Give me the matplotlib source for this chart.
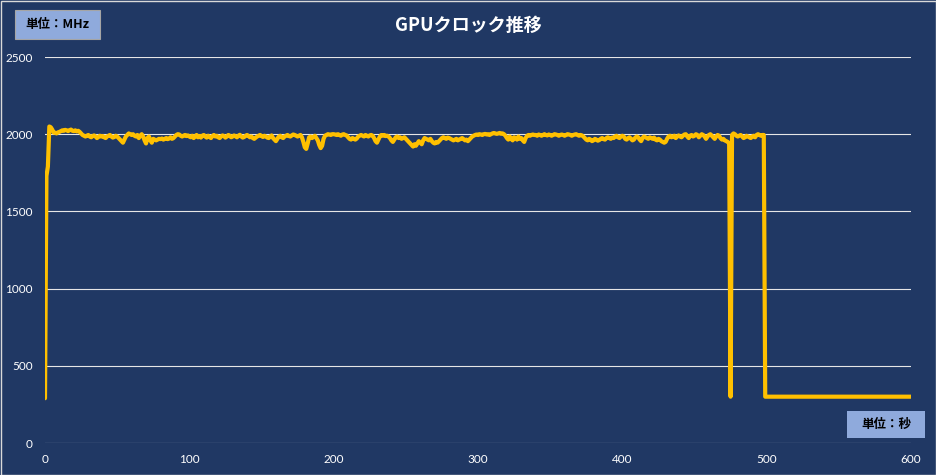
import numpy as np
import matplotlib
matplotlib.use("Agg")
import matplotlib.pyplot as plt
from matplotlib.patches import Rectangle

plt.rcParams['font.family'] = ['Lato', 'Noto Sans CJK JP', 'DejaVu Sans']

# GPU clock (MHz), one value per second from t=0 to t=499
clock_mhz = [
    290, 1730, 1790, 2050, 2045, 2030, 2010, 2010, 2005, 2012, 2015, 2020, 2025, 2022, 2028, 2025, 2020, 2026, 2030, 2022,
    2020, 2025, 2018, 2022, 2015, 2005, 1995, 1990, 1985, 1990, 1995, 1985, 1980, 1988, 1992, 1985, 1975, 1982, 1990, 1985,
    1988, 1980, 1975, 1985, 1990, 1995, 1985, 1978, 1982, 1990, 1985, 1975, 1965, 1955, 1945, 1965, 1985, 1995, 2005, 2000,
    1995, 2000, 1990, 1985, 1995, 1975, 1990, 2000, 1985, 1960, 1940, 1975, 1985, 1960, 1945, 1970, 1965, 1960, 1965, 1970,
    1968, 1972, 1965, 1970, 1975, 1968, 1972, 1980, 1970, 1975, 1985, 1995, 2000, 1998, 1990, 1985, 1990, 1995, 1988, 1992,
    1985, 1980, 1990, 1975, 1985, 1995, 1980, 1988, 1978, 1990, 1995, 1985, 1978, 1990, 1982, 1975, 1988, 1995, 1985, 1990,
    1980, 1975, 1985, 1992, 1988, 1978, 1985, 1995, 1990, 1980, 1985, 1992, 1986, 1980, 1990, 1996, 1985, 1978, 1982, 1990,
    1995, 1988, 1980, 1985, 1975, 1970, 1978, 1985, 1990, 1995, 1988, 1982, 1990, 1985, 1978, 1975, 1985, 1992, 1975, 1965,
    1955, 1970, 1985, 1990, 1980, 1975, 1985, 1990, 1995, 1988, 1985, 1992, 1998, 1995, 1990, 1985, 1990, 1995, 1980, 1950,
    1915, 1905, 1940, 1980, 1985, 1975, 1982, 1990, 1975, 1960, 1930, 1910, 1925, 1970, 1990, 1995, 2000, 1998, 1995, 2000,
    2000, 1998, 1995, 2000, 1995, 1990, 1998, 2000, 1995, 1992, 1980, 1970, 1965, 1975, 1970, 1965, 1972, 1985, 1990, 1995,
    1990, 1985, 1995, 1990, 1985, 1992, 1995, 1990, 1975, 1955, 1945, 1965, 1985, 1995, 1990, 1995, 1988, 1990, 1985, 1975,
    1960, 1950, 1965, 1980, 1985, 1975, 1980, 1970, 1975, 1980, 1970, 1960, 1950, 1940, 1930, 1920, 1935, 1925, 1940, 1955,
    1945, 1935, 1960, 1975, 1970, 1965, 1960, 1970, 1955, 1945, 1940, 1950, 1945, 1955, 1965, 1975, 1980, 1975, 1970, 1978,
    1975, 1970, 1965, 1960, 1965, 1970, 1960, 1965, 1970, 1975, 1968, 1960, 1965, 1955, 1965, 1975, 1985, 1990, 1995, 1998,
    1995, 2000, 1998, 1995, 2000, 2002, 1998, 2000, 1995, 2000, 2005, 2008, 2005, 2002, 2005, 2008, 2003, 2005, 2000, 1990,
    1975, 1965, 1985, 1970, 1960, 1980, 1975, 1965, 1985, 1970, 1975, 1960, 1950, 1975, 1990, 1995, 1990, 1995, 1998, 1995,
    1995, 1990, 1998, 1995, 1990, 1995, 2000, 1995, 1992, 1998, 1995, 1990, 1995, 2000, 1998, 1995, 1990, 1995, 1998, 1995,
    1990, 1995, 2000, 1998, 1995, 1990, 1995, 1998, 2000, 1995, 1990, 1995, 1992, 1985, 1975, 1965, 1960, 1970, 1965, 1955,
    1960, 1970, 1965, 1958, 1962, 1970, 1975, 1968, 1965, 1975, 1980, 1975, 1970, 1978, 1975, 1985, 1990, 1980, 1975, 1985,
    1990, 1985, 1970, 1965, 1975, 1980, 1970, 1960, 1965, 1978, 1985, 1980, 1965, 1955, 1975, 1985, 1980, 1975, 1970, 1980,
    1975, 1970, 1978, 1965, 1960, 1970, 1965, 1955, 1950, 1945, 1950, 1970, 1985, 1990, 1980, 1985, 1990, 1975, 1985, 1992,
    1985, 1980, 1990, 1998, 2000, 1985, 1975, 1990, 1995, 1985, 1990, 2000, 1995, 1980, 1990, 2000, 1995, 1985, 1970, 1985,
    1995, 2000, 1990, 1980, 1970, 1985, 1995, 1990, 1975, 1965, 1970, 1960, 1955, 1950, 1940, 300, 1995, 2005, 2000, 1990,
    1985, 1990, 1995, 1985, 1975, 1980, 1990, 1985, 1980, 1975, 1985, 1990, 1980, 1995, 2000, 1995, 1990, 1995, 1995, 300,
]
# idle tail after the load ends
tail_seconds = [600]
tail_mhz = [300]

x_ticks = [0, 100, 200, 300, 400, 500, 600]
y_ticks = [0, 500, 1000, 1500, 2000, 2500]

title = "GPUクロック推移"
y_unit = "単位：MHz"
x_unit = "単位：秒"

BG = "#203864"
LINE = "#FFC000"
BOX = "#8FAADC"

seconds = list(np.arange(len(clock_mhz))) + tail_seconds
values = clock_mhz + tail_mhz

fig = plt.figure(figsize=(9.36, 4.75), dpi=100, facecolor=BG)
ax = fig.add_axes([45/936, 1-443/475, 866/936, 386/475])
ax.set_facecolor(BG)

ax.plot(seconds, values, color=LINE, linewidth=3.0, solid_joinstyle='round',
        solid_capstyle='round', zorder=3)

ax.set_xlim(0, 600)
ax.set_ylim(0, 2500)
ax.set_xticks(x_ticks)
ax.set_yticks(y_ticks)
ax.set_xticklabels([str(v) for v in x_ticks])
ax.set_yticklabels([str(v) for v in y_ticks])
ax.grid(axis='y', color='#E6E6E6', linewidth=0.8)
ax.set_axisbelow(True)
for s in ax.spines.values():
    s.set_visible(False)
ax.tick_params(axis='both', length=0, colors='white', labelsize=8.5)
ax.tick_params(axis='y', pad=9)
ax.tick_params(axis='x', pad=8)
for lab in ax.get_xticklabels() + ax.get_yticklabels():
    lab.set_color('white')

fig.text(468/936, 1-25/475, title, color='white', fontsize=13, fontweight='bold',
         ha='center', va='center', family=['Noto Sans CJK JP', 'DejaVu Sans'])

# unit boxes
fig.patches.append(Rectangle((15/936, 1-39/475), 85/936, 29/475, transform=fig.transFigure,
                             facecolor=BOX, edgecolor='#A5A5A5', linewidth=0.8, zorder=5))
fig.text(57.5/936, 1-24.5/475, y_unit, color='black', fontsize=9, fontweight='bold',
         ha='center', va='center', zorder=6, family=['Noto Sans CJK JP', 'DejaVu Sans'])
fig.patches.append(Rectangle((847/936, 1-438/475), 78/936, 27/475, transform=fig.transFigure,
                             facecolor=BOX, edgecolor='none', zorder=5))
fig.text(886/936, 1-424.5/475, x_unit, color='black', fontsize=9, fontweight='bold',
         ha='center', va='center', zorder=6, family=['Noto Sans CJK JP', 'DejaVu Sans'])

# outer border
fig.patches.append(Rectangle((0.5/936, 0.5/475), 935/936, 474/475, transform=fig.transFigure,
                             facecolor='none', edgecolor='#D9D9D9', linewidth=1.0, zorder=10))

fig.savefig("out.png", dpi=100, facecolor=BG)
